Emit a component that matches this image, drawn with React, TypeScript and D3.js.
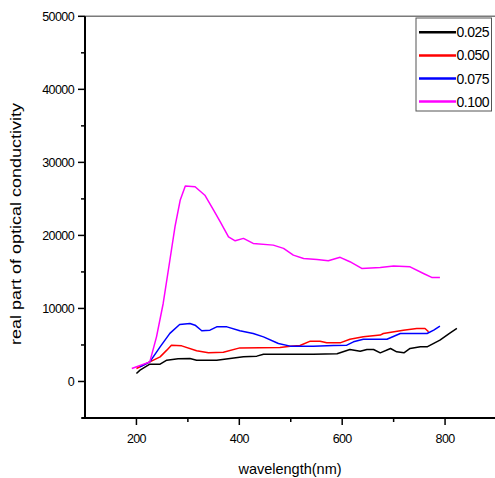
import React from "react";
import * as d3 from "d3";

// wavelength (nm), real part of optical conductivity
const s025: [number, number][] = [
  [200, 1100], [207, 1550], [226, 2370], [246, 2370], [259, 2920], [281, 3100], [304, 3150],
  [317, 2920], [356, 2920], [382, 3150], [408, 3370], [434, 3470], [447, 3740], [544, 3740],
  [590, 3800], [615, 4380], [635, 4150], [648, 4380], [661, 4380], [674, 3920], [694, 4520],
  [706, 4060], [720, 3920], [732, 4520], [752, 4740], [765, 4740], [790, 5660], [810, 6660], [823, 7260],
];
const s050: [number, number][] = [
  [200, 1780], [226, 2690], [246, 3370], [259, 4290], [268, 4970], [288, 4880], [317, 4200],
  [340, 3920], [369, 4010], [401, 4600], [479, 4660], [499, 4840], [518, 4930], [538, 5520],
  [557, 5520], [570, 5290], [596, 5290], [615, 5790], [641, 6110], [674, 6350], [680, 6570],
  [719, 7030], [745, 7260], [761, 7260], [768, 6800],
];
const s075: [number, number][] = [
  [207, 2000], [226, 2690], [246, 4740], [265, 6580], [284, 7800], [304, 7950], [314, 7710],
  [327, 6940], [343, 7030], [356, 7480], [376, 7480], [401, 6940], [427, 6580], [447, 6110],
  [476, 5200], [499, 4840], [544, 4840], [583, 4930], [609, 4970], [622, 5430], [641, 5790],
  [687, 5790], [713, 6570], [765, 6570], [778, 7030], [790, 7580],
];
const s100: [number, number][] = [
  [191, 1780], [226, 2690], [239, 6110], [252, 10680], [265, 16600], [275, 21200], [285, 24800],
  [295, 26750], [314, 26660], [333, 25500], [350, 23470], [363, 21860], [379, 19800], [392, 19260],
  [408, 19590], [427, 18900], [466, 18670], [486, 18220], [505, 17300], [525, 16850], [551, 16710],
  [573, 16520], [596, 17000], [615, 16400], [638, 15480], [674, 15620], [700, 15800], [732, 15700],
  [758, 14790], [774, 14250], [790, 14250],
];

const seriesNames = ["0.025", "0.050", "0.075", "0.100"];
const seriesColors = ["#000000", "#ff0000", "#0000ff", "#ff00ff"];
const seriesData = [s025, s050, s075, s100];

const xMajor = [200, 400, 600, 800];
const xMinor = [300, 500, 700];
const yMajor = [0, 10000, 20000, 30000, 40000, 50000];
const yMinor = [-5000, 5000, 15000, 25000, 35000, 45000];

export default function App() {
  const W = 495, H = 478;
  const left = 85, right = 496.5, top = 16.3, bottom = 418;
  const x = d3.scaleLinear().domain([100, 900]).range([left, right]);
  const y = d3.scaleLinear().domain([-5000, 50000]).range([bottom, top]);
  const line = d3.line<[number, number]>().x(d => x(d[0])).y(d => y(d[1])).curve(d3.curveLinear);
  const font = "Arial, 'Liberation Sans', sans-serif";

  return (
    <svg width={W} height={H} style={{ position: "absolute", left: 0, top: 0, background: "#fff" }}
      fontFamily={font}>
      {/* top frame */}
      <line x1={left} x2={W} y1={top} y2={top} stroke="#7a7a7a" strokeWidth={1.6} />
      {/* axes */}
      <line x1={left} x2={left} y1={top} y2={bottom + 1} stroke="#000" strokeWidth={2} />
      <line x1={left - 3} x2={W} y1={bottom} y2={bottom} stroke="#000" strokeWidth={2} />
      {yMajor.map(v => (
        <g key={"ym" + v}>
          <line x1={left - 7} x2={left} y1={y(v)} y2={y(v)} stroke="#000" strokeWidth={1.5} />
          <text x={74} y={y(v) + 4.5} textAnchor="end" fontSize={12.5} letterSpacing={-0.6}>{v}</text>
        </g>
      ))}
      {yMinor.map(v => (
        <line key={"yn" + v} x1={left - 4} x2={left} y1={y(v)} y2={y(v)} stroke="#000" strokeWidth={1.5} />
      ))}
      {xMajor.map(v => (
        <g key={"xm" + v}>
          <line x1={x(v)} x2={x(v)} y1={bottom} y2={bottom + 7} stroke="#000" strokeWidth={1.5} />
          <text x={x(v)} y={443} textAnchor="middle" fontSize={12.5} letterSpacing={-0.6}>{v}</text>
        </g>
      ))}
      {xMinor.map(v => (
        <line key={"xn" + v} x1={x(v)} x2={x(v)} y1={bottom} y2={bottom + 4} stroke="#000" strokeWidth={1.5} />
      ))}
      <text x={290} y={474} textAnchor="middle" fontSize={14.5}>wavelength(nm)</text>
      <text transform={`translate(21,224) rotate(-90)`} textAnchor="middle" fontSize={15.5}
        textLength={242} lengthAdjust="spacingAndGlyphs">real part of optical conductivity</text>

      {/* series */}
      {seriesData.map((d, i) => (
        <path key={seriesNames[i]} d={line(d) || ""} fill="none" stroke={seriesColors[i]}
          strokeWidth={1.5} strokeLinejoin="round" />
      ))}

      {/* legend */}
      <rect x={416} y={18} width={75.5} height={93} fill="#fff" stroke="#555" strokeWidth={1} />
      {seriesNames.map((n, i) => (
        <g key={"lg" + n}>
          <line x1={419} x2={456} y1={32.3 + i * 23.1} y2={32.3 + i * 23.1} stroke={seriesColors[i]} strokeWidth={2.5} />
          <text x={456.5} y={32.3 + i * 23.1 + 5} fontSize={14} letterSpacing={-0.5}>{n}</text>
        </g>
      ))}
    </svg>
  );
}
